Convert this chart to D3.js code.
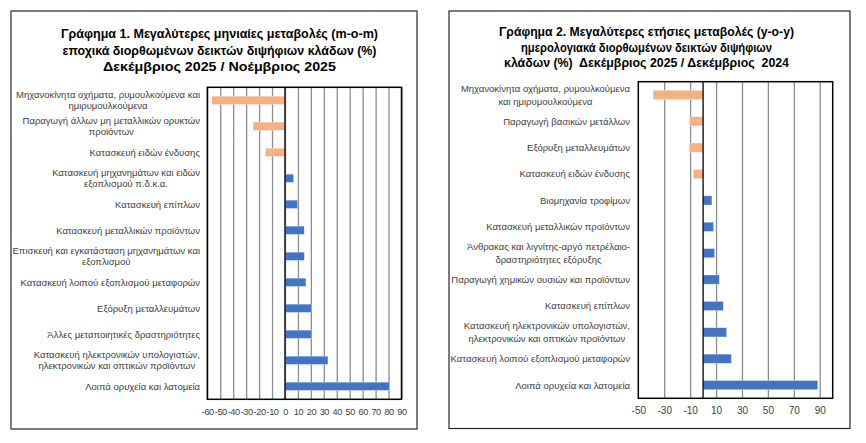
<!DOCTYPE html>
<html><head><meta charset="utf-8">
<script src="https://cdn.jsdelivr.net/npm/d3@7"></script>
<style>body{margin:0;background:#fff}svg{display:block}text{font-family:"Liberation Sans",Arial,sans-serif;fill:#404040}</style>
</head><body><svg id="c" width="866" height="443"></svg>
<script>
const leftTitle = ["Γράφημα 1. Μεγαλύτερες μηνιαίες μεταβολές (m-o-m)",
  "εποχικά διορθωμένων δεικτών διψήφιων κλάδων (%)",
  "Δεκέμβριος 2025 / Νοέμβριος 2025"];
const leftCategories = [
  ["Μηχανοκίνητα οχήματα, ρυμουλκούμενα και","ημιρυμουλκούμενα"],
  ["Παραγωγή άλλων μη μεταλλικών ορυκτών","προϊόντων"],
  ["Κατασκευή ειδών ένδυσης"],
  ["Κατασκευή μηχανημάτων και ειδών","εξοπλισμού π.δ.κ.α."],
  ["Κατασκευή επίπλων"],
  ["Κατασκευή μεταλλικών προϊόντων"],
  ["Επισκευή και εγκατάσταση μηχανημάτων και","εξοπλισμού"],
  ["Κατασκευή λοιπού εξοπλισμού μεταφορών"],
  ["Εξόρυξη μεταλλευμάτων"],
  ["Άλλες μεταποιητικές δραστηριότητες"],
  ["Κατασκευή ηλεκτρονικών υπολογιστών,","ηλεκτρονικών και οπτικών προϊόντων"],
  ["Λοιπά ορυχεία και λατομεία"]];
const leftValues = [-56.5, -24.7, -15.2, 6.7, 9.8, 14.9, 15.0, 16.2, 20.6, 20.7, 33.2, 80.7];
const leftTicks = [-60,-50,-40,-30,-20,-10,0,10,20,30,40,50,60,70,80,90];
const leftDomain = [-60, 90];

const rightTitle = ["Γράφημα 2. Μεγαλύτερες ετήσιες μεταβολές (y-o-y)",
  "ημερολογιακά διορθωμένων δεικτών διψήφιων",
  "κλάδων (%)  Δεκέμβριος 2025 / Δεκέμβριος  2024"];
const rightCategories = [
  ["Μηχανοκίνητα οχήματα, ρυμουλκούμενα","και ημιρυμουλκούμενα"],
  ["Παραγωγή βασικών μετάλλων"],
  ["Εξόρυξη μεταλλευμάτων"],
  ["Κατασκευή ειδών ένδυσης"],
  ["Βιομηχανία τροφίμων"],
  ["Κατασκευή μεταλλικών προϊόντων"],
  ["Άνθρακας και λιγνίτης-αργό πετρέλαιο-","δραστηριότητες εξόρυξης"],
  ["Παραγωγή χημικών ουσιών και προϊόντων"],
  ["Κατασκευή επίπλων"],
  ["Κατασκευή ηλεκτρονικών υπολογιστών,","ηλεκτρονικών και οπτικών προϊόντων"],
  ["Κατασκευή λοιπού εξοπλισμού μεταφορών"],
  ["Λοιπά ορυχεία και λατομεία"]];
const rightValues = [-38.6, -10.6, -10.8, -7.6, 6.8, 8.1, 8.9, 12.5, 15.6, 18.2, 21.8, 88.5];
const rightTicks = [-50,-30,-10,10,30,50,70,90];
const rightGrid = [-30,-10,10,30,50,70,90];
const rightDomain = [-50, 100];

const svg = d3.select("#c");

function panel(o){
  const g = svg.append("g");
  g.append("rect").attr("x",o.box[0]).attr("y",o.box[1]).attr("width",o.box[2]-o.box[0]).attr("height",o.box[3]-o.box[1])
    .attr("fill","#fff").attr("stroke","#262626").attr("stroke-width",1.2);
  o.title.forEach((t,i)=>{
    g.append("text").attr("x",o.titleX).attr("y",o.titleY[i]).attr("text-anchor","middle")
      .style("font-weight","bold").style("font-size","13px").style("fill","#000").style("white-space","pre")
      .attr("textLength",o.titleW[i]).attr("lengthAdjust","spacingAndGlyphs").text(t);
  });
  const x = d3.scaleLinear().domain(o.domain).range([o.plot[0], o.plot[2]]);
  const y = d3.scaleBand().domain(d3.range(o.cats.length)).range([o.plot[1], o.plot[3]]).paddingInner(o.pad).paddingOuter(o.pad/2);
  g.append("g").attr("class","grid")
    .attr("transform",`translate(0,${o.plot[3]})`)
    .call(d3.axisBottom(x).tickValues(o.grid).tickSize(-(o.plot[3]-o.plot[1])).tickFormat(""))
    .call(s=>s.select(".domain").remove())
    .call(s=>s.selectAll("line").attr("stroke","#8c8c8c").attr("stroke-width",1.3));
  g.selectAll("rect.bar").data(o.values).join("rect").attr("class","bar")
    .attr("x",d=>x(Math.min(0,d))).attr("width",d=>Math.abs(x(d)-x(0)))
    .attr("y",(d,i)=>y(i)).attr("height",y.bandwidth())
    .attr("fill",d=>d<0?"#F4B183":"#4472C4").attr("stroke","#fff").attr("stroke-opacity",0.6).attr("stroke-width",0.6);
  g.append("line").attr("x1",x(0)).attr("x2",x(0)).attr("y1",o.plot[1]).attr("y2",o.plot[3]).attr("stroke","#000").attr("stroke-width",1.3);
  g.append("rect").attr("x",o.plot[0]).attr("y",o.plot[1]).attr("width",o.plot[2]-o.plot[0]).attr("height",o.plot[3]-o.plot[1])
    .attr("fill","none").attr("stroke","#000").attr("stroke-width",1.5);
  const ax = g.append("g").attr("transform",`translate(0,${o.plot[3]})`)
    .call(d3.axisBottom(x).tickValues(o.ticks).tickSize(0).tickPadding(o.tickPad).tickFormat(d=>String(d)));
  ax.select(".domain").remove();
  ax.selectAll("text").style("font-family","\"Liberation Sans\",Arial,sans-serif").style("font-size",o.tfs+"px")
    .style("letter-spacing",o.tls+"px").style("fill","#404040");
  o.cats.forEach((lines,i)=>{
    const cy = y(i)+y.bandwidth()/2;
    const tg = g.append("g");
    const ts = lines.map((l,j)=>tg.append("text").attr("y",cy+(j-(lines.length-1)/2)*o.lh+3.4)
      .style("font-size",o.fs+"px").text(l));
    const ws = ts.map(t=>t.node().getComputedTextLength());
    const bw = Math.max(...ws);
    ts.forEach((t,j)=>t.attr("x",o.labelR-bw/2).attr("text-anchor","middle"));
  });
}

panel({box:[11,11,417,429], title:leftTitle, titleX:219.5, titleY:[37.5,55,71], titleW:[317,314,233],
  plot:[207.3,87.3,401.5,399.3], domain:leftDomain, cats:leftCategories, values:leftValues,
  grid:leftTicks, ticks:leftTicks, pad:0.68, tickPad:9, tfs:9.2, tls:-0.45, labelR:200, fs:9.5, lh:11});
panel({box:[449,11,850,428.5], title:rightTitle, titleX:646.5, titleY:[36,51.5,67], titleW:[295,251,285],
  plot:[638.3,81.7,832.7,398.3], domain:rightDomain, cats:rightCategories, values:rightValues,
  grid:rightGrid, ticks:rightTicks, pad:0.65, tickPad:9, tfs:10, tls:0, labelR:630, fs:9.5, lh:13});
</script></body></html>
